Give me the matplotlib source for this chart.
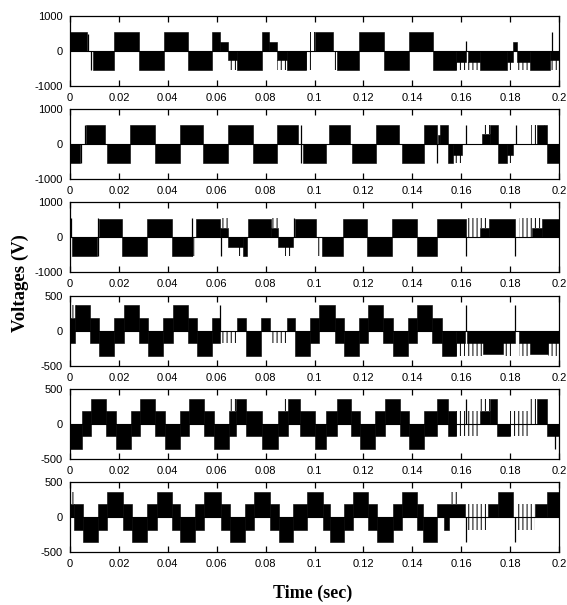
import matplotlib
matplotlib.use("Agg")
import matplotlib.pyplot as plt

plt.rcParams['axes.unicode_minus'] = False
plt.rcParams['hatch.linewidth'] = 0.7

# time axis
xticks = [0, 0.02, 0.04, 0.06, 0.08, 0.1, 0.12, 0.14, 0.16, 0.18, 0.2]
xlabels = ['0', '0.02', '0.04', '0.06', '0.08', '0.1', '0.12', '0.14', '0.16', '0.18', '0.2']

# ---- line voltage vab: (t0, t1, low, high) ----
vab_solid = [
    (0.0000, 0.0071, 0, 540), (0.0093, 0.0181, -540, 0), (0.0181, 0.0283, 0, 540),
    (0.0283, 0.0384, -540, 0), (0.0384, 0.0484, 0, 540), (0.0484, 0.0580, -540, 0),
    (0.0580, 0.0613, 0, 540), (0.0613, 0.0647, 0, 270), (0.0647, 0.0681, -270, 0),
    (0.0681, 0.0784, -540, 0), (0.0784, 0.0815, 0, 540), (0.0815, 0.0848, 0, 270),
    (0.0848, 0.0886, -270, 0), (0.0886, 0.0965, -540, 0), (0.1002, 0.1075, 0, 540),
    (0.1091, 0.1183, -540, 0), (0.1183, 0.1284, 0, 540), (0.1284, 0.1388, -540, 0),
    (0.1388, 0.1483, 0, 540), (0.1483, 0.1579, -540, 0), (0.1579, 0.1620, -300, 0),
    (0.1627, 0.1677, -300, 0), (0.1677, 0.1786, -540, 0), (0.1786, 0.1813, -300, 0),
    (0.1813, 0.1829, 0, 270), (0.1829, 0.1881, -300, 0), (0.1881, 0.1963, -540, 0),
    (0.1963, 0.2000, -270, 0),
]
vab_stripe = [
    (0.0647, 0.0681, -540, -270), (0.0848, 0.0886, -540, -270), (0.0965, 0.0988, -540, 0),
    (0.0982, 0.1002, 0, 540), (0.1075, 0.1091, -540, 0), (0.1579, 0.1620, -540, -300),
    (0.1627, 0.1677, -540, -300), (0.1786, 0.1813, -540, -300), (0.1829, 0.1881, -540, -300),
    (0.1963, 0.2000, -540, -270),
]
vab_spike = [(0.0075, 0, 480), (0.0086, -540, 0), (0.1620, 0, 290), (0.1970, 0, 540)]

# ---- line voltage vbc ----
vbc_solid = [
    (0.0000, 0.0041, -540, 0), (0.0065, 0.0143, 0, 540), (0.0150, 0.0245, -540, 0),
    (0.0245, 0.0348, 0, 540), (0.0348, 0.0450, -540, 0), (0.0450, 0.0545, 0, 540),
    (0.0545, 0.0648, -540, 0), (0.0648, 0.0747, 0, 540), (0.0747, 0.0848, -540, 0),
    (0.0848, 0.0934, 0, 540), (0.0952, 0.1047, -540, 0), (0.1061, 0.1145, 0, 540),
    (0.1152, 0.1250, -540, 0), (0.1250, 0.1347, 0, 540), (0.1357, 0.1448, -540, 0),
    (0.1448, 0.1500, 0, 540), (0.1505, 0.1513, 0, 270), (0.1513, 0.1547, 0, 540),
    (0.1547, 0.1568, -540, 0), (0.1568, 0.1603, -300, 0), (0.1684, 0.1716, 0, 300),
    (0.1716, 0.1752, 0, 540), (0.1752, 0.1786, -540, 0), (0.1786, 0.1813, -300, 0),
    (0.1911, 0.1949, 0, 540), (0.1950, 0.2000, -540, 0),
]
vbc_stripe = [
    (0.1568, 0.1603, -540, -300), (0.1684, 0.1716, 300, 540), (0.1786, 0.1813, -540, -300),
    (0.1884, 0.1911, 0, 540), (0.1940, 0.1950, 0, 540),
]
vbc_spike = [(0.0045, -540, 0), (0.0061, 0, 540), (0.0943, -540, 540), (0.1502, -540, 0),
             (0.1620, 0, 540), (0.1824, 0, 540)]

# ---- line voltage vca ----
vca_solid = [
    (0.0009, 0.0109, -540, 0), (0.0119, 0.0212, 0, 540), (0.0212, 0.0314, -540, 0),
    (0.0314, 0.0416, 0, 540), (0.0416, 0.0498, -540, 0), (0.0515, 0.0614, 0, 540),
    (0.0614, 0.0647, 0, 270), (0.0647, 0.0708, -270, 0), (0.0708, 0.0722, -540, 0),
    (0.0726, 0.0823, 0, 540), (0.0823, 0.0852, 0, 270), (0.0852, 0.0913, -270, 0),
    (0.0920, 0.1006, 0, 540), (0.1029, 0.1115, -540, 0), (0.1115, 0.1216, 0, 540),
    (0.1216, 0.1318, -540, 0), (0.1318, 0.1418, 0, 540), (0.1418, 0.1502, -540, 0),
    (0.1502, 0.1620, 0, 540), (0.1677, 0.1715, 0, 270), (0.1715, 0.1820, 0, 540),
    (0.1888, 0.1929, 0, 270), (0.1929, 0.2000, 0, 540),
]
vca_stripe = [
    (0.0498, 0.0511, -540, 0), (0.0614, 0.0647, 270, 540), (0.0681, 0.0708, -540, -270),
    (0.0823, 0.0852, 270, 540), (0.0879, 0.0913, -540, -270), (0.1009, 0.1029, -540, 0),
    (0.1629, 0.1677, 0, 540), (0.1677, 0.1715, 270, 540), (0.1838, 0.1888, 0, 540),
    (0.1888, 0.1929, 270, 540),
]
vca_spike = [(0.0005, 0, 540), (0.0113, -540, 540), (0.0498, -540, 540), (0.0616, -540, 0),
             (0.0918, 0, 540), (0.1620, -540, 0), (0.1820, -540, 0)]

# ---- phase voltage va ----
va_solid = [
    (0.0000, 0.0020, -180, 180), (0.0020, 0.0082, 0, 360), (0.0082, 0.0120, -180, 180),
    (0.0120, 0.0182, -360, 0), (0.0182, 0.0220, -180, 180), (0.0220, 0.0282, 0, 360),
    (0.0282, 0.0320, -180, 180), (0.0320, 0.0382, -360, 0), (0.0382, 0.0420, -180, 180),
    (0.0420, 0.0482, 0, 360), (0.0482, 0.0520, -180, 180), (0.0520, 0.0582, -360, 0),
    (0.0582, 0.0613, -180, 180), (0.0681, 0.0720, 0, 180), (0.0720, 0.0782, -360, 0),
    (0.0782, 0.0818, 0, 180), (0.0886, 0.0920, 0, 180), (0.0920, 0.0982, -360, 0),
    (0.0982, 0.1020, -180, 180), (0.1020, 0.1082, 0, 360), (0.1082, 0.1120, -180, 180),
    (0.1120, 0.1182, -360, 0), (0.1182, 0.1220, -180, 180), (0.1220, 0.1282, 0, 360),
    (0.1282, 0.1320, -180, 180), (0.1320, 0.1382, -360, 0), (0.1382, 0.1420, -180, 180),
    (0.1420, 0.1482, 0, 360), (0.1482, 0.1520, -180, 180), (0.1520, 0.1580, -360, 0),
    (0.1580, 0.1616, -180, 0), (0.1622, 0.1820, -180, 0), (0.1690, 0.1770, -330, 0),
    (0.1836, 0.2000, -180, 0), (0.1881, 0.1955, -330, 0),
]
va_stripe = [
    (0.0000, 0.0027, 180, 360), (0.0613, 0.0681, -180, 0), (0.0818, 0.0886, -180, 0),
    (0.1580, 0.1616, -360, -180), (0.1622, 0.1690, -360, -180), (0.1770, 0.1815, -360, -180),
    (0.1836, 0.1881, -360, -180), (0.1955, 0.2000, -360, -180),
]
va_spike = [(0.0613, 0, 360), (0.1620, 0, 360), (0.1820, 0, 360)]

# ---- phase voltage vb ----
vb_solid = [
    (0.0000, 0.0049, -360, 0), (0.0049, 0.0087, -180, 180), (0.0087, 0.0149, 0, 360),
    (0.0149, 0.0187, -180, 180), (0.0187, 0.0249, -360, 0), (0.0249, 0.0287, -180, 180),
    (0.0287, 0.0349, 0, 360), (0.0349, 0.0387, -180, 180), (0.0387, 0.0449, -360, 0),
    (0.0449, 0.0487, -180, 180), (0.0487, 0.0549, 0, 360), (0.0549, 0.0587, -180, 180),
    (0.0587, 0.0649, -360, 0), (0.0649, 0.0680, -180, 180), (0.0680, 0.0720, 0, 360),
    (0.0720, 0.0787, -180, 180), (0.0787, 0.0849, -360, 0), (0.0849, 0.0890, -180, 180),
    (0.0890, 0.0940, 0, 360), (0.0940, 0.1000, -180, 180), (0.1000, 0.1045, -360, 0),
    (0.1045, 0.1090, -180, 180), (0.1090, 0.1149, 0, 360), (0.1149, 0.1187, -180, 180),
    (0.1187, 0.1249, -360, 0), (0.1249, 0.1290, -180, 180), (0.1290, 0.1349, 0, 360),
    (0.1349, 0.1387, -180, 180), (0.1387, 0.1449, -360, 0), (0.1449, 0.1500, -180, 180),
    (0.1500, 0.1547, 0, 360), (0.1547, 0.1577, -180, 180), (0.1677, 0.1716, 0, 180),
    (0.1716, 0.1745, 0, 360), (0.1745, 0.1800, -180, 0), (0.1911, 0.1949, 0, 360),
    (0.1949, 0.2000, -180, 0),
]
vb_stripe = [
    (0.0654, 0.0680, 180, 360), (0.0866, 0.0890, 180, 360), (0.1577, 0.1677, -180, 180),
    (0.1677, 0.1716, 180, 360), (0.1800, 0.1881, -180, 180), (0.1881, 0.1911, 0, 360),
]
vb_spike = [(0.1620, 0, 360), (0.1985, -360, 0)]

# ---- phase voltage vc ----
vc_solid = [
    (0.0000, 0.0018, 0, 180), (0.0018, 0.0055, -180, 180), (0.0055, 0.0115, -360, 0),
    (0.0115, 0.0152, -180, 180), (0.0152, 0.0216, 0, 360), (0.0216, 0.0252, -180, 180),
    (0.0252, 0.0316, -360, 0), (0.0316, 0.0354, -180, 180), (0.0354, 0.0418, 0, 360),
    (0.0418, 0.0450, -180, 180), (0.0450, 0.0512, -360, 0), (0.0512, 0.0550, -180, 180),
    (0.0550, 0.0616, 0, 360), (0.0616, 0.0654, -180, 180), (0.0654, 0.0716, -360, 0),
    (0.0716, 0.0752, -180, 180), (0.0752, 0.0816, 0, 360), (0.0816, 0.0855, -180, 180),
    (0.0855, 0.0913, -360, 0), (0.0913, 0.0968, -180, 180), (0.0968, 0.1036, 0, 360),
    (0.1036, 0.1063, -180, 180), (0.1063, 0.1120, -360, 0), (0.1120, 0.1159, -180, 180),
    (0.1159, 0.1220, 0, 360), (0.1220, 0.1254, -180, 180), (0.1254, 0.1320, -360, 0),
    (0.1320, 0.1356, -180, 180), (0.1356, 0.1418, 0, 360), (0.1418, 0.1445, -180, 180),
    (0.1445, 0.1500, -360, 0), (0.1500, 0.1616, 0, 180), (0.1530, 0.1550, -180, 0),
    (0.1710, 0.1752, 0, 180), (0.1752, 0.1813, 0, 360), (0.1900, 0.1950, 0, 180),
    (0.1950, 0.2000, 0, 360),
]
vc_stripe = [
    (0.0000, 0.0018, 180, 360), (0.0680, 0.0700, -360, -180), (0.0870, 0.0890, -360, -180),
    (0.1560, 0.1590, 180, 360), (0.1625, 0.1710, -180, 180), (0.1830, 0.1900, -180, 180),
]
vc_spike = [(0.1620, -360, 0), (0.1820, -360, 0)]

panels = [
    (vab_solid, vab_stripe, vab_spike, 1000),
    (vbc_solid, vbc_stripe, vbc_spike, 1000),
    (vca_solid, vca_stripe, vca_spike, 1000),
    (va_solid, va_stripe, va_spike, 500),
    (vb_solid, vb_stripe, vb_spike, 500),
    (vc_solid, vc_stripe, vc_spike, 500),
]

W, H = 567, 605
fig = plt.figure(figsize=(W / 100, H / 100), dpi=100)
tick_font = ['Liberation Sans', 'DejaVu Sans']

for i, (solid, stripe, spike, lim) in enumerate(panels):
    top = 16 + 93.2 * i
    ax = fig.add_axes([70 / W, 1 - (top + 70) / H, 489 / W, 70 / H])
    ax.axhline(0, color='black', lw=0.8)
    for t0, t1, lo, hi in solid:
        ax.fill_between([t0, t1], [lo, lo], [hi, hi], facecolor='black',
                        edgecolor='black', lw=0.4)
    for t0, t1, lo, hi in stripe:
        ax.fill_between([t0, t1], [lo, lo], [hi, hi], facecolor='none',
                        edgecolor='black', hatch='||||', lw=0)
    for t, lo, hi in spike:
        ax.vlines(t, lo, hi, color='black', lw=0.9)
    ax.set_xlim(0, 0.2)
    ax.set_ylim(-lim, lim)
    ax.set_xticks(xticks)
    ax.set_xticklabels(xlabels, family=tick_font, fontsize=8)
    ax.set_yticks([-lim, 0, lim])
    ax.set_yticklabels([str(-lim), '0', str(lim)], family=tick_font, fontsize=8)
    ax.tick_params(axis='x', direction='in', top=True, length=4.5, width=0.9, pad=5)
    ax.tick_params(axis='y', length=0, pad=5)
    for s in ax.spines.values():
        s.set_linewidth(0.9)

fig.text(20 / W, 1 - 283 / H, 'Voltages (V)', rotation=90, ha='center', va='center',
         family=['Liberation Serif', 'DejaVu Serif'], fontweight='bold', fontsize=13.5)
fig.text(313 / W, 1 - 593 / H, 'Time (sec)', ha='center', va='center',
         family=['Liberation Serif', 'DejaVu Serif'], fontweight='bold', fontsize=13)

fig.savefig('out.png', dpi=100)
